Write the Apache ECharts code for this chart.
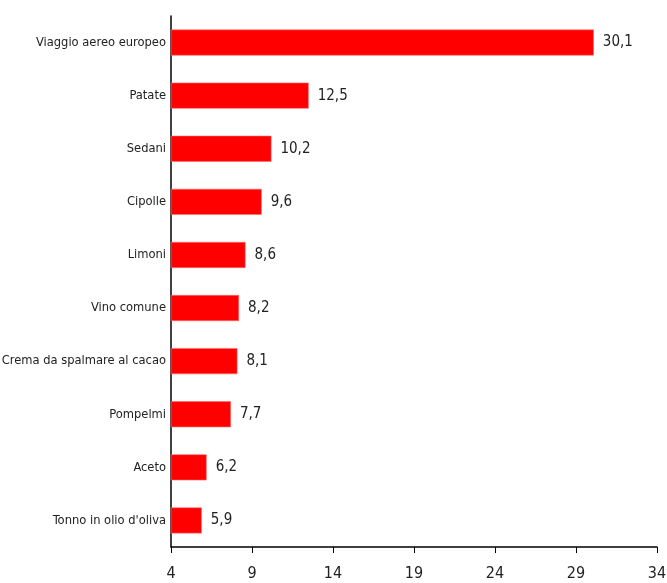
<!DOCTYPE html>
<html>
<head>
<meta charset="utf-8">
<script src="https://cdn.jsdelivr.net/npm/echarts@6/dist/echarts.min.js"></script>
<style>
  html, body { margin: 0; padding: 0; background: #fff; }
  #chart { width: 667px; height: 583px; }
</style>
</head>
<body>
<div id="chart"></div>
<script>
// Categories listed top to bottom
const categories = [
  'Viaggio aereo europeo',
  'Patate',
  'Sedani',
  'Cipolle',
  'Limoni',
  'Vino comune',
  'Crema da spalmare al cacao',
  'Pompelmi',
  'Aceto',
  'Tonno in olio d\'oliva'
];
const values = [30.1, 12.5, 10.2, 9.6, 8.6, 8.2, 8.1, 7.7, 6.2, 5.9];
const xTicks = [4, 9, 14, 19, 24, 29, 34];

const FONT = '"Liberation Sans Narrow", "DejaVu Sans Condensed", "Roboto Condensed", sans-serif';

const chart = echarts.init(document.getElementById('chart'), null, { renderer: 'canvas' });
chart.setOption({
  animation: false,
  grid: { left: 171, right: 10, top: 16, bottom: 36, containLabel: false, outerBoundsMode: 'none' },
  xAxis: {
    type: 'value',
    min: xTicks[0],
    max: xTicks[xTicks.length - 1],
    interval: xTicks[1] - xTicks[0],
    splitLine: { show: false },
    axisLine: { show: true, lineStyle: { color: '#000', width: 1.5 } },
    axisTick: { show: true, length: 6, lineStyle: { color: '#000' } },
    axisLabel: { color: '#222', fontSize: 16, fontFamily: FONT, margin: 19 }
  },
  yAxis: {
    type: 'category',
    inverse: true,
    data: categories,
    axisLine: { show: true, lineStyle: { color: '#000', width: 1.5 } },
    axisTick: { show: false },
    axisLabel: { color: '#222', fontSize: 12.8, fontFamily: FONT, margin: 5 }
  },
  series: [{
    type: 'bar',
    data: values,
    barWidth: 26,
    itemStyle: { color: '#ff0000', borderColor: '#ff6b6b', borderWidth: 0.6 },
    label: {
      show: true,
      position: 'right',
      distance: 9,
      color: '#222',
      fontSize: 15,
      fontFamily: FONT,
      formatter: p => String(p.value).replace('.', ',')
    }
  }]
});
</script>
</body>
</html>
